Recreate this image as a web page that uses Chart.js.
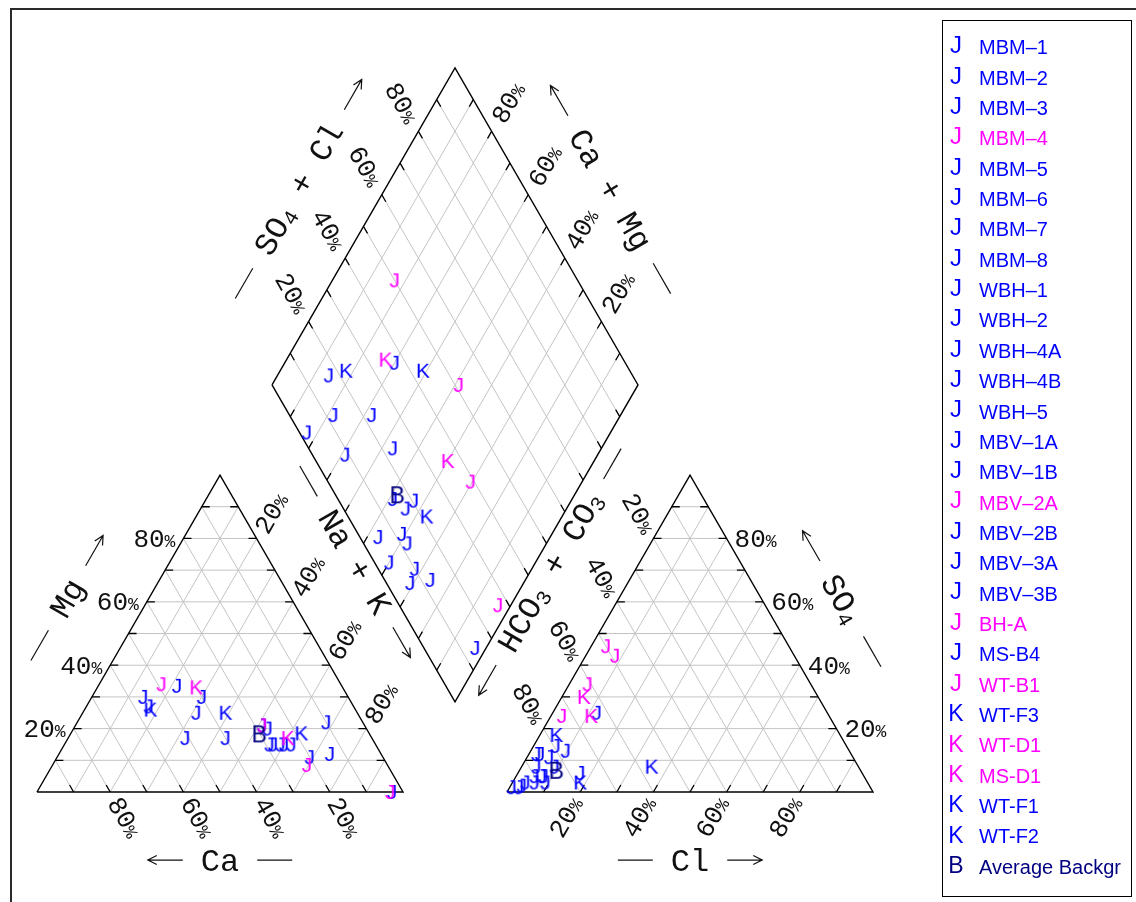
<!DOCTYPE html>
<html>
<head>
<meta charset="utf-8">
<title>Piper diagram</title>
<script src="https://cdn.jsdelivr.net/npm/chart.js@4.4.1/dist/chart.umd.min.js"></script>
<style>
  html, body { margin: 0; padding: 0; background: #fff; }
  canvas { display: block; }
</style>
</head>
<body>
<canvas id="piper" width="1136" height="902"></canvas>
<script>
// ---- Sample data (percent of meq/L), listed in legend order ----
const sampleNames = [
  'MBM\u20131', 'MBM\u20132', 'MBM\u20133', 'MBM\u20134', 'MBM\u20135', 'MBM\u20136', 'MBM\u20137',
  'MBM\u20138', 'WBH\u20131', 'WBH\u20132', 'WBH\u20134A', 'WBH\u20134B', 'WBH\u20135', 'MBV\u20131A',
  'MBV\u20131B', 'MBV\u20132A', 'MBV\u20132B', 'MBV\u20133A', 'MBV\u20133B', 'BH-A', 'MS-B4', 'WT-B1',
  'WT-F3', 'WT-D1', 'MS-D1', 'WT-F1', 'WT-F2', 'Average Backgr'
];
// cations: Ca and Mg (Na + K is the remainder)
const caPct = [56, 40, 45, 49, 51, 56, 44, 40, 28, 29, 28, 27, 26, 23, 25, 28, 10, 20, 14, 22, 3, 3.5, 56, 40, 23, 36, 18.5, 30];
const mgPct = [30, 30, 33.5, 34, 17, 27, 25, 17, 21, 15, 15, 20, 15, 15, 15, 21, 22, 11, 12, 8.5, 0, 0, 26, 33, 17, 25, 18.5, 18.5];
// anions: Cl and SO4 (HCO3 + CO3 is the remainder)
const clPct  = [6, 12, 4, 4, 9.5, 0.5, 6, 17, 3, 9, 6, 3, 7, 9, 2.5, 8, 5, 3.5, 7.5, 5, 2, 3, 4.5, 11, 6, 35.5, 18.5, 10];
const so4Pct = [11, 25, 8, 46, 13, 1.5, 3, 6, 12, 8, 14.5, 2, 5, 3, 1.5, 43, 5, 3, 5, 34, 12, 24, 18, 24, 30, 8, 3, 7];
// axis tick labels (percent)
const tickValues = [20, 40, 60, 80];

// ---- Marker styles ----
const BLUE = '#0000ff', PINK = '#ff00ff', NAVY = '#000080';
const sampleSymbol = ['J','J','J','J','J','J','J','J','J','J','J','J','J','J','J','J','J','J','J','J','J','J','K','K','K','K','K','B'];
const sampleColor = [BLUE, BLUE, BLUE, PINK, BLUE, BLUE, BLUE, BLUE, BLUE, BLUE, BLUE, BLUE, BLUE, BLUE,
  BLUE, PINK, BLUE, BLUE, BLUE, PINK, BLUE, PINK, BLUE, PINK, PINK, BLUE, BLUE, NAVY];

// ---- Diagram geometry (triangle side = 100 units) ----
const H = Math.sqrt(3) / 2;
const GAP = 28.42;                 // space between the two triangles
const OX = 100 + GAP;              // origin of the anion triangle
const DB = { x: 100 + GAP / 2, y: GAP * H };        // diamond bottom vertex
const DL = { x: DB.x - 50, y: DB.y + 100 * H };     // diamond left vertex
const E1 = { x: 50, y: -100 * H };                  // left -> bottom
const E2 = { x: 50, y: 100 * H };                   // left -> top

const PX = 3.66;                   // pixels per unit
const X_MIN = -37 / PX, X_MAX = X_MIN + 1136 / PX;
const Y_MAX = 792 / PX, Y_MIN = Y_MAX - 902 / PX;

function cationXY(ca, mg) { const na = 100 - ca - mg; return { x: na + mg / 2, y: mg * H }; }
function anionXY(cl, so4) { return { x: OX + cl + so4 / 2, y: so4 * H }; }
function diamondXY(p, q) { return { x: DL.x + p * E1.x + q * E2.x, y: DL.y + p * E1.y + q * E2.y }; }

// ---- Grid, outline and tick segments ----
const BREAK = { x: NaN, y: NaN };
function segs(list) {
  const out = [];
  list.forEach(s => { out.push(s[0], s[1], BREAK); });
  return out;
}
const gridSegs = [], tickSegs = [];
const TL = 2.2; // tick length in units
for (let k = 1; k <= 9; k++) {
  const f = k / 10;
  // cation triangle
  gridSegs.push([{ x: 50 * f, y: 100 * H * f }, { x: 100 - 50 * f, y: 100 * H * f }]);
  gridSegs.push([{ x: 100 * (1 - f), y: 0 }, { x: 50 * (1 - f), y: 100 * H * (1 - f) }]);
  gridSegs.push([{ x: 100 * f, y: 0 }, { x: 50 * (1 + f), y: 100 * H * (1 - f) }]);
  tickSegs.push([{ x: 50 * f, y: 100 * H * f }, { x: 50 * f + TL, y: 100 * H * f }]);
  tickSegs.push([{ x: 100 - 50 * f, y: 100 * H * f }, { x: 100 - 50 * f - TL, y: 100 * H * f }]);
  tickSegs.push([{ x: 100 * (1 - f), y: 0 }, { x: 100 * (1 - f) - TL / 2, y: TL * H }]);
  // anion triangle
  gridSegs.push([{ x: OX + 50 * f, y: 100 * H * f }, { x: OX + 100 - 50 * f, y: 100 * H * f }]);
  gridSegs.push([{ x: OX + 100 * (1 - f), y: 0 }, { x: OX + 50 * (1 - f), y: 100 * H * (1 - f) }]);
  gridSegs.push([{ x: OX + 100 * f, y: 0 }, { x: OX + 50 * (1 + f), y: 100 * H * (1 - f) }]);
  tickSegs.push([{ x: OX + 50 * f, y: 100 * H * f }, { x: OX + 50 * f + TL, y: 100 * H * f }]);
  tickSegs.push([{ x: OX + 100 - 50 * f, y: 100 * H * f }, { x: OX + 100 - 50 * f - TL, y: 100 * H * f }]);
  tickSegs.push([{ x: OX + 100 * f, y: 0 }, { x: OX + 100 * f + TL / 2, y: TL * H }]);
  // diamond
  const t = TL / 100;
  gridSegs.push([diamondXY(f, 0), diamondXY(f, 1)]);
  gridSegs.push([diamondXY(0, f), diamondXY(1, f)]);
  tickSegs.push([diamondXY(f, 0), diamondXY(f, t)]);
  tickSegs.push([diamondXY(f, 1), diamondXY(f, 1 - t)]);
  tickSegs.push([diamondXY(0, f), diamondXY(t, f)]);
  tickSegs.push([diamondXY(1, f), diamondXY(1 - t, f)]);
}
const cationOutline = [{ x: 0, y: 0 }, { x: 100, y: 0 }, { x: 50, y: 100 * H }, { x: 0, y: 0 }];
const anionOutline = [{ x: OX, y: 0 }, { x: OX + 100, y: 0 }, { x: OX + 50, y: 100 * H }, { x: OX, y: 0 }];
const diamondOutline = [diamondXY(0, 0), diamondXY(1, 0), diamondXY(1, 1), diamondXY(0, 1), diamondXY(0, 0)];
const outlineData = [...cationOutline, BREAK, ...anionOutline, BREAK, ...diamondOutline];

// ---- Glyph markers ----
function glyph(ch, color, size) {
  const c = document.createElement('canvas');
  const w = Math.ceil(size * 1.3), h = Math.ceil(size * 1.3);
  c.width = w; c.height = h;
  const g = c.getContext('2d');
  g.font = size + 'px "Liberation Sans", Arial, sans-serif';
  g.fillStyle = color;
  g.textAlign = 'center';
  g.textBaseline = 'alphabetic';
  const m = g.measureText(ch);
  g.fillText(ch, w / 2, h / 2 + (m.actualBoundingBoxAscent - m.actualBoundingBoxDescent) / 2);
  return c;
}

const sampleDatasets = sampleNames.map((name, i) => {
  const ca = caPct[i], mg = mgPct[i], cl = clPct[i], so4 = so4Pct[i];
  const na = 100 - ca - mg;
  const pts = [cationXY(ca, mg), anionXY(cl, so4), diamondXY(na / 100, (cl + so4) / 100)];
  const size = sampleSymbol[i] === 'B' ? 23 : 21;
  return {
    label: name,
    data: pts,
    showLine: false,
    pointStyle: glyph(sampleSymbol[i], sampleColor[i], size),
    pointRadius: 8,
    order: sampleNames.length - i
  };
});

const lineDs = (label, data, color, width) => ({
  label, data, showLine: true, pointRadius: 0, borderColor: color, borderWidth: width,
  fill: false, spanGaps: false, order: 100
});

// ---- Text: tick labels, axis titles, frame and legend ----
const MONO = '"Liberation Mono", "Courier New", monospace';
const SANS = '"Liberation Sans", Arial, sans-serif';

function tickLabel(ctx, x, y, ux, uy, ang, align, value, gap) {
  ctx.save();
  ctx.translate(x + ux * gap, y + uy * gap);
  ctx.rotate(ang * Math.PI / 180);
  ctx.fillStyle = '#111';
  ctx.textAlign = 'left';
  ctx.textBaseline = 'alphabetic';
  ctx.font = '26px ' + MONO;
  const s = String(value);
  const nw = ctx.measureText(s).width;
  const asc = ctx.measureText('0').actualBoundingBoxAscent;
  ctx.font = '18px ' + MONO;
  const pw = ctx.measureText('%').width;
  const x0 = align === 'right' ? -(nw + pw) : 0;
  ctx.font = '26px ' + MONO;
  ctx.fillText(s, x0, asc / 2);
  ctx.font = '18px ' + MONO;
  ctx.fillText('%', x0 + nw, asc / 2);
  ctx.restore();
}

function drawRich(ctx, parts) {
  // draws the parts centred on the origin and returns their width
  const big = '32px ' + MONO, small = '21px ' + MONO;
  let w = 0;
  parts.forEach(p => { ctx.font = p[1] ? small : big; w += ctx.measureText(p[0]).width; });
  ctx.font = big;
  const asc = ctx.measureText('C').actualBoundingBoxAscent;
  let x = -w / 2;
  parts.forEach(p => {
    ctx.font = p[1] ? small : big;
    ctx.fillText(p[0], x, asc / 2 + (p[1] ? 4 : 0));
    x += ctx.measureText(p[0]).width;
  });
  return w;
}

function deco(ctx, kind, x0, x1) {
  // line from x0 to x1 along the text axis; arrow head at x1 when kind is 'arrow'
  ctx.beginPath();
  ctx.moveTo(x0, 0); ctx.lineTo(x1, 0);
  if (kind === 'arrow') {
    const d = Math.sign(x1 - x0), a = 9, s = 4.5;
    ctx.moveTo(x1 - d * a, -s); ctx.lineTo(x1, 0); ctx.lineTo(x1 - d * a, s);
  }
  ctx.stroke();
}

function axisTitle(ctx, x, y, ang, parts, pre, post) {
  ctx.save();
  ctx.translate(x, y);
  ctx.rotate(ang * Math.PI / 180);
  ctx.fillStyle = '#111';
  ctx.strokeStyle = '#111';
  ctx.lineWidth = 1.2;
  ctx.textAlign = 'left';
  ctx.textBaseline = 'alphabetic';
  const w = drawRich(ctx, parts);
  const g = 18, L = 35;
  // pre element sits before the text: arrow points backwards
  deco(ctx, pre, -w / 2 - g, -w / 2 - g - L);
  deco(ctx, post, w / 2 + g, w / 2 + g + L);
  ctx.restore();
}

const diagramText = {
  id: 'diagramText',
  afterDatasetsDraw(chart) {
    const ctx = chart.ctx;
    const sx = chart.scales.x, sy = chart.scales.y;
    const P = (p) => [sx.getPixelForValue(p.x), sy.getPixelForValue(p.y)];
    const c60 = 0.5, s60 = H;
    tickValues.forEach(v => {
      let q;
      // cation: Ca along base, Mg on left edge, Na + K on right edge
      q = P({ x: 100 - v, y: 0 }); tickLabel(ctx, q[0], q[1], c60, s60, 60, 'left', v, 8);
      q = P({ x: v / 2, y: H * v }); tickLabel(ctx, q[0], q[1], -1, 0, 0, 'right', v, 8);
      q = P({ x: 50 + v / 2, y: H * (100 - v) }); tickLabel(ctx, q[0], q[1], c60, -s60, -60, 'left', v, 8);
      // anion: Cl along base, SO4 on right edge, HCO3 + CO3 on left edge
      q = P({ x: OX + v, y: 0 }); tickLabel(ctx, q[0], q[1], -c60, s60, -60, 'right', v, 8);
      q = P({ x: OX + 100 - v / 2, y: H * v }); tickLabel(ctx, q[0], q[1], 1, 0, 0, 'left', v, 8);
      q = P({ x: OX + (100 - v) / 2, y: H * (100 - v) }); tickLabel(ctx, q[0], q[1], -c60, -s60, 60, 'right', v, 8);
      // diamond: SO4 + Cl on upper-left, Ca + Mg on upper-right
      q = P(diamondXY(0, v / 100)); tickLabel(ctx, q[0], q[1], -c60, -s60, 60, 'right', v, 12);
      q = P(diamondXY(1 - v / 100, 1)); tickLabel(ctx, q[0], q[1], c60, -s60, -60, 'left', v, 12);
    });

    const mid = (a, b) => ({ x: (a.x + b.x) / 2, y: (a.y + b.y) / 2 });
    const off = (p, nx, ny, d) => ({ x: p.x + nx * d, y: p.y + ny * d });
    const titles = [
      { at: { x: 50, y: -18.6 }, ang: 0, parts: [['Ca']], pre: 'arrow', post: 'dash' },
      { at: { x: OX + 50, y: -18.6 }, ang: 0, parts: [['Cl']], pre: 'dash', post: 'arrow' },
      { at: off({ x: 25, y: 50 * H }, -H, 0.5, 19.4), ang: -60, parts: [['Mg']], pre: 'dash', post: 'arrow' },
      { at: off({ x: OX + 75, y: 50 * H }, H, 0.5, 19), ang: 60, parts: [['SO'], ['4', 1]], pre: 'arrow', post: 'dash' },
      { at: off(mid(diamondXY(0, 0), diamondXY(0, 1)), -H, 0.5, 20.5), ang: -60,
        parts: [['SO'], ['4', 1], [' + Cl']], pre: 'dash', post: 'arrow' },
      { at: off(mid(diamondXY(0, 1), diamondXY(1, 1)), H, 0.5, 20.2), ang: 60,
        parts: [['Ca + Mg']], pre: 'arrow', post: 'dash' },
      { at: off(off(mid(diamondXY(0, 0), diamondXY(1, 0)), -H, -0.5, 4.5), 0.5, -H, 3.2), ang: 60,
        parts: [['Na + K']], pre: 'dash', post: 'arrow' },
      { at: off(off(mid(diamondXY(1, 0), diamondXY(1, 1)), H, -0.5, 4.7), -0.5, -H, 6.3), ang: -60,
        parts: [['HCO'], ['3', 1], [' + CO'], ['3', 1]], pre: 'arrow', post: 'dash' }
    ];
    titles.forEach(t => {
      const q = P(t.at);
      axisTitle(ctx, q[0], q[1], t.ang, t.parts, t.pre, t.post);
    });
  },
  afterDraw(chart) {
    const ctx = chart.ctx;
    ctx.save();
    // outer frame
    ctx.strokeStyle = '#2a2a2a';
    ctx.lineWidth = 2;
    ctx.beginPath();
    ctx.moveTo(11, 910); ctx.lineTo(11, 9); ctx.lineTo(1140, 9);
    ctx.stroke();
    // legend box
    ctx.lineWidth = 1;
    ctx.strokeStyle = '#000';
    ctx.strokeRect(942.5, 20.5, 189, 876);
    ctx.textBaseline = 'middle';
    ctx.textAlign = 'left';
    sampleNames.forEach((name, i) => {
      const y = 48.8 + i * 30.35;
      ctx.fillStyle = sampleColor[i];
      ctx.font = (sampleSymbol[i] === 'J' ? 24 : 23) + 'px ' + SANS;
      const m = ctx.measureText(sampleSymbol[i]);
      ctx.save();
      ctx.textBaseline = 'alphabetic';
      ctx.fillText(sampleSymbol[i], 956 - m.width / 2,
        y + 2.5 + (m.actualBoundingBoxAscent - m.actualBoundingBoxDescent) / 2);
      ctx.restore();
      ctx.font = '20px ' + SANS;
      ctx.fillText(name, 979, y);
    });
    ctx.restore();
  }
};

new Chart(document.getElementById('piper'), {
  type: 'scatter',
  data: {
    datasets: [
      ...sampleDatasets,
      lineDs('ticks', segs(tickSegs), '#000', 1.3),
      lineDs('outline', outlineData, '#000', 1.4),
      lineDs('grid', segs(gridSegs), '#c4c4c4', 1)
    ]
  },
  options: {
    responsive: false,
    devicePixelRatio: 1,
    animation: false,
    events: [],
    layout: { padding: 0, autoPadding: false },
    plugins: { legend: { display: false }, tooltip: { enabled: false } },
    scales: {
      x: { type: 'linear', min: X_MIN, max: X_MAX, display: false },
      y: { type: 'linear', min: Y_MIN, max: Y_MAX, display: false }
    }
  },
  plugins: [diagramText]
});
</script>
</body>
</html>
